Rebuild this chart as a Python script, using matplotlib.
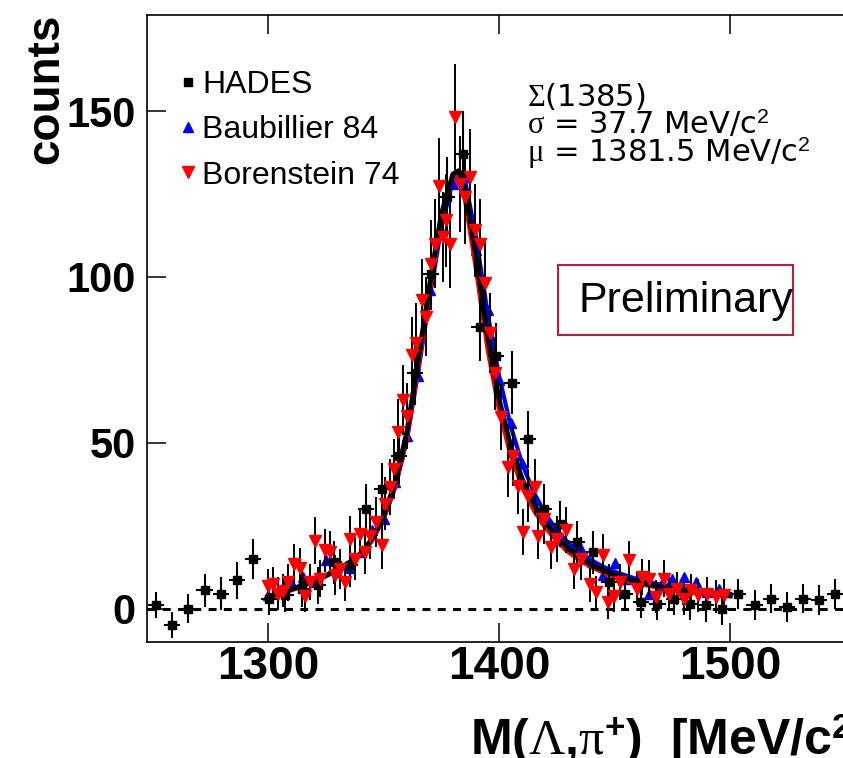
import matplotlib.pyplot as plt
from matplotlib.lines import Line2D
from matplotlib.patches import Rectangle

plt.rcParams['font.family'] = ['Liberation Sans', 'DejaVu Sans']
plt.rcParams['mathtext.fontset'] = 'custom'
plt.rcParams['mathtext.rm'] = 'Liberation Serif'
plt.rcParams['mathtext.it'] = 'Liberation Serif:italic'
plt.rcParams['mathtext.bf'] = 'Liberation Sans:bold'
plt.rcParams['mathtext.sf'] = 'Liberation Sans'

# HADES data (bin centres, counts, errors)
hades_x = [1251.5, 1258.5, 1265.5, 1272.5, 1279.5, 1286.5, 1293.5, 1300.5, 1307.5, 1314.5,
           1321.5, 1328.5, 1335.5, 1342.5, 1349.5, 1356.5, 1363.5, 1370.5, 1377.5, 1384.5,
           1391.5, 1398.5, 1405.5, 1412.5, 1419.5, 1426.5, 1433.5, 1440.5, 1447.5, 1454.5,
           1461.5, 1468.5, 1475.5, 1482.5, 1489.5, 1496.5, 1503.5, 1510.5, 1517.5, 1524.5,
           1531.5, 1538.5, 1545.5]
hades_y = [1, -5, 0, 5.5, 4.5, 8.5, 15, 3, 4, 6,
           7, 14, 13, 30, 36, 46, 71, 101, 124, 137,
           85, 76, 68, 51, 30, 25.5, 20, 17, 8, 4.5,
           2, 1.5, 3, 1.5, 1, 0, 4.5, 1, 3, 0.5,
           3, 2.5, 4.5]
hades_err = [4, 4, 4.5, 5, 5, 5.5, 6, 5, 5, 5.5,
             5.5, 6.5, 6.5, 7.5, 8, 8.5, 9.5, 11, 12, 13,
             10.5, 10, 9.5, 8.5, 7.5, 7, 6.5, 6.5, 5.5, 5,
             5, 5, 5, 5, 5, 5, 4.5, 4.5, 4.5, 4.5,
             4.5, 4.5, 4.5]
hades_binhalf = 3.5

# Baubillier 84
baub_x = [1300, 1305, 1310, 1315, 1320, 1325, 1330, 1335, 1340, 1345,
          1350, 1355, 1360, 1365, 1370, 1375, 1380, 1385, 1390, 1395,
          1400, 1405, 1410, 1415, 1420, 1425, 1430, 1435, 1440, 1445,
          1450, 1455, 1460, 1465, 1470, 1475, 1480, 1485, 1490, 1495]
baub_y = [4.1, 5.5, 7.9, 9.4, 8.0, 14.7, 11, 12.3, 17, 23.6,
          27, 38, 52, 70, 96, 114, 128, 130, 108, 90,
          69, 56, 44, 32.6, 27, 23.6, 19, 18.5, 14, 10,
          13.7, 9, 8, 4.4, 7, 9, 9.5, 7.9, 5, 5.9]

# Borenstein 74
bor_x = [1300.1, 1302.3, 1304.5, 1306.6, 1308.8, 1311.0, 1313.8, 1316.0, 1318.2, 1320.3,
         1322.5, 1324.6, 1326.8, 1329.0, 1331.2, 1333.3, 1335.4, 1337.6, 1339.7, 1342.0,
         1344.3, 1346.6, 1349.1, 1350.5, 1352.7, 1354.5, 1356.3, 1358.5, 1360.3, 1362.1,
         1364.2, 1366.4, 1368.5, 1370.4, 1372.2, 1374.0, 1375.8, 1377.2, 1378.6, 1380.8,
         1383.0, 1385.1, 1387.3, 1389.5, 1391.8, 1393.9, 1396.0, 1398.1, 1401.0, 1403.8,
         1406.0, 1408.2, 1410.3, 1412.5, 1415.3, 1416.8, 1419.5, 1422.5, 1425.0, 1429.0,
         1432.6, 1435.5, 1439.1, 1442.0, 1444.8, 1447.0, 1449.9, 1452.5, 1456.4, 1459.5,
         1462.0, 1465.0, 1468.0, 1471.5, 1473.7, 1477.0, 1480.0, 1483.0, 1486.0, 1490.0,
         1494.0, 1497.5]
bor_y = [6.9, 7.5, 4.5, 5.4, 7.9, 13.5, 12.3, 3.9, 8.0, 20.5,
         9.0, 17.5, 17.0, 10.0, 12.0, 7.9, 21.0, 15.0, 22.6, 17.0,
         22.0, 26.0, 19.0, 31.6, 36.6, 42.0, 53.3, 62.8, 58.0, 76.4,
         80.0, 93.0, 88.0, 104.0, 110.0, 127.5, 112.0, 117.0, 110.0, 148.2,
         128.0, 124.0, 130.0, 114.0, 110.0, 98.0, 83.0, 70.9, 57.8, 42.7,
         46.0, 37.0, 23.0, 34.0, 36.6, 22.0, 27.0, 18.5, 21.0, 23.6,
         12.0, 15.0, 7.5, 4.9, 16.0, 1.9, 3.9, 8.0, 14.5, 6.0,
         9.5, 9.0, 3.5, 9.0, 4.4, 6.0, 3.0, 5.5, 4.0, 4.5,
         3.5, 4.0]
bor_err = [5, 5, 5, 5, 5.5, 6, 6, 5, 5.5, 7,
           5.5, 6.5, 6.5, 6, 6, 5.5, 7, 6.5, 7, 6.5,
           7, 7.5, 7, 8, 8.5, 9, 10, 10.5, 10, 11.5,
           12, 12.5, 12, 13, 13.5, 14.5, 13.5, 14, 13.5, 16,
           14.5, 14, 14.5, 14, 13.5, 13, 12, 11, 10, 9,
           9, 8.5, 7, 8, 8.5, 7, 7.5, 6.5, 7, 7,
           6, 6.5, 5.5, 5, 6.5, 5, 5, 5.5, 6, 5,
           5.5, 5.5, 5, 5.5, 5, 5, 5, 5, 5, 5,
           5, 5]

# fit curves
fit_x = [1300, 1305, 1310, 1315, 1320, 1325, 1330, 1335, 1340, 1345,
         1350, 1355, 1360, 1365, 1370, 1375, 1380, 1382.5, 1385, 1390,
         1395, 1400, 1405, 1410, 1415, 1420, 1425, 1430, 1435, 1440,
         1445, 1450, 1455, 1460, 1465, 1470, 1475, 1480, 1485, 1490,
         1495, 1500]
fit_hades = [3.6, 4.6, 5.8, 7.0, 8.5, 10.0, 11.8, 13.8, 16.5, 21.0,
             28.0, 38.0, 53.0, 75.0, 98.0, 119.0, 131.0, 132.0, 127.0, 106.0,
             82.0, 63.0, 49.0, 39.0, 31.5, 26.0, 21.5, 18.0, 15.3, 13.2,
             11.5, 10.2, 9.0, 8.0, 7.2, 6.5, 5.9, 5.3, 4.9, 4.5,
             4.1, 3.8]
fit_baub = [3.3, 4.3, 5.5, 6.7, 8.2, 9.7, 11.4, 13.4, 16.0, 20.5,
            27.0, 36.5, 50.5, 71.5, 94.0, 115.0, 129.0, 132.0, 130.0, 112.0,
            89.0, 70.0, 55.0, 43.5, 35.0, 28.5, 23.5, 19.8, 16.8, 14.5,
            12.6, 11.1, 9.9, 8.8, 7.9, 7.2, 6.5, 6.0, 5.5, 5.1,
            4.7, 4.4]
fit_bor = [3.4, 4.4, 5.6, 6.8, 8.3, 9.8, 11.6, 13.6, 16.2, 20.5,
           27.0, 36.5, 51.0, 72.5, 96.0, 118.0, 130.5, 131.0, 124.0, 102.0,
           78.0, 59.5, 46.0, 36.5, 29.5, 24.3, 20.2, 16.9, 14.4, 12.4,
           10.8, 9.5, 8.4, 7.5, 6.8, 6.1, 5.6, 5.1, 4.7, 4.3,
           4.0, 3.7]

W, H = 843, 758
fig = plt.figure(figsize=(W / 100, H / 100), dpi=100)
ax = fig.add_axes([147 / W, 116 / H, 745 / W, 627.5 / H])
ax.set_xlim(1247.6, 1570)
ax.set_ylim(-10.1, 179.1)

# zero line
ax.axhline(0, color='black', lw=2.2, ls=(0, (2.6, 2.4)), zorder=1)

# Baubillier points
ax.plot(baub_x, baub_y, ls='none', marker='^', ms=6.5, color='blue', zorder=1.5)

# fits
ax.plot(fit_x, fit_baub, color='blue', lw=3, zorder=2)
ax.plot(fit_x, fit_bor, color='red', lw=3, zorder=2.2)
ax.plot(fit_x, fit_hades, color='black', lw=3.5, zorder=2.4)

# HADES
ax.errorbar(hades_x, hades_y, xerr=hades_binhalf, yerr=hades_err, fmt='s', color='black',
            ms=6, elinewidth=1.5, capsize=0, zorder=3)

# Borenstein
ax.errorbar(bor_x, bor_y, yerr=bor_err, fmt='none', ecolor='black', elinewidth=1.4,
            capsize=0, zorder=3.5)
ax.plot(bor_x, bor_y, ls='none', marker='v', ms=8, color='red', zorder=4)

# axes style
for s in ax.spines.values():
    s.set_linewidth(1.2)
ax.set_xticks([1300, 1400, 1500])
ax.set_yticks([0, 50, 100, 150])
ax.minorticks_off()
ax.tick_params(direction='in', length=14, width=1.1, top=True, right=True)
ax.tick_params(axis='x', pad=2, labelsize=33)
ax.tick_params(axis='y', pad=8, labelsize=30)
for lab in ax.get_xticklabels() + ax.get_yticklabels():
    lab.set_fontweight('bold')

# axis titles
fig.text(46 / W, 1 - 14 / H, 'counts', rotation=90, ha='center', va='top',
         fontsize=33, fontweight='bold')
fig.text(470 / W, 3 / H, r'M($\Lambda$,$\mathrm{\pi}^{\mathbf{+}}$)  [MeV/c$^{\mathbf{2}}$]',
         ha='left', va='baseline', fontsize=36, fontweight='bold')

# legend
handles = [Line2D([], [], ls='none', marker='s', ms=6, color='black'),
           Line2D([], [], ls='none', marker='^', ms=6.5, color='blue'),
           Line2D([], [], ls='none', marker='v', ms=8, color='red')]
ax.legend(handles, ['HADES', 'Baubillier 84', 'Borenstein 74'], loc='upper left',
          bbox_to_anchor=(178 / W, 1 - 70 / H), bbox_transform=fig.transFigure,
          frameon=False, fontsize=23, handlelength=0.6, handletextpad=0.15,
          labelspacing=0.48, borderpad=0, borderaxespad=0)

# fit results (baseline of the last line)
fig.text(527 / W, 1 - 162 / H,
         '$\\Sigma$(1385)\n'
         '$\\mathrm{\\sigma}$ = 37.7 MeV/c$^{\\mathsf{2}}$\n'
         '$\\mathrm{\\mu}$ = 1381.5 MeV/c$^{\\mathsf{2}}$',
         fontsize=22, family='DejaVu Sans', va='baseline', linespacing=0.8)

# preliminary box
fig.add_artist(Rectangle((558 / W, 1 - 335 / H), 235 / W, 70 / H, transform=fig.transFigure,
                         fill=False, edgecolor='#b8203a', lw=1.5))
fig.text(578 / W, 1 - 312 / H, 'Preliminary', fontsize=31, va='baseline')

fig.savefig('out.png', dpi=100)
